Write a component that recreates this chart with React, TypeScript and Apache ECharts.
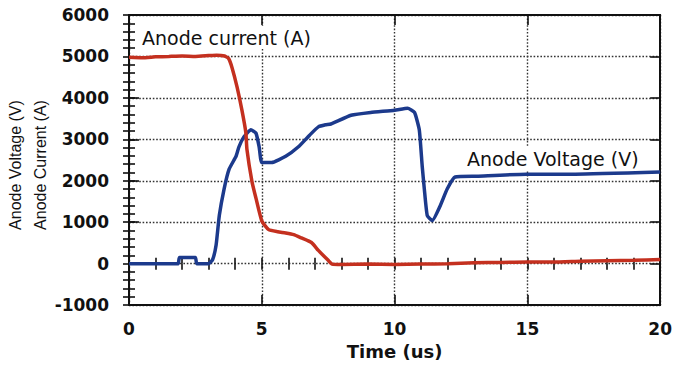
import { useEffect, useRef } from "react";
import * as echarts from "echarts";

// Anode current (A) vs time (us)
const currentTime = [0, 0.5, 1, 1.5, 2, 2.5, 3, 3.3, 3.6, 3.75, 3.88, 4.07, 4.25, 4.4, 4.44, 4.63, 4.78, 5.0, 5.26, 5.6, 5.9, 6.2, 6.49, 6.87, 7.13, 7.5, 7.65, 8, 9, 10, 11, 12, 13, 14, 15, 16, 17, 18, 19, 20];
const currentValues = [4980, 4970, 4990, 5000, 5010, 5000, 5020, 5030, 5010, 4950, 4730, 4260, 3710, 3160, 2760, 1980, 1580, 1030, 820, 770, 740, 700, 620, 510, 320, 80, -10, -20, -10, -20, -10, 0, 20, 30, 40, 40, 60, 70, 80, 100];

// Anode voltage (V) vs time (us)
const voltageTime = [0, 1, 1.85, 1.9, 2.5, 2.55, 3.0, 3.15, 3.28, 3.4, 3.58, 3.77, 4.03, 4.14, 4.33, 4.59, 4.78, 4.9, 5.0, 5.37, 5.9, 6.38, 6.8, 7.13, 7.4, 7.6, 8.36, 9.1, 10, 10.49, 10.75, 10.93, 11.04, 11.12, 11.23, 11.42, 11.72, 11.98, 12.28, 13.1, 14.96, 16.8, 20];
const voltageValues = [0, 0, 0, 150, 150, 0, 0, 100, 450, 1160, 1800, 2280, 2590, 2820, 3060, 3230, 3150, 2820, 2440, 2440, 2590, 2820, 3100, 3300, 3350, 3370, 3580, 3650, 3700, 3750, 3650, 3230, 2350, 1800, 1160, 1040, 1400, 1800, 2090, 2110, 2160, 2160, 2210];

const xMin = 0;
const xMax = 20;
const xInterval = 5;
const xMinorInterval = 1;
const yMin = -1000;
const yMax = 6000;
const yInterval = 1000;
const yMinorInterval = 200;

const xTitle = "Time (us)";
const yTitle1 = "Anode Voltage (V)";
const yTitle2 = "Anode Current (A)";
const currentLabel = "Anode current (A)";
const voltageLabel = "Anode Voltage (V)";

export default function App() {
  const ref = useRef<HTMLDivElement>(null);

  useEffect(() => {
    if (!ref.current) return;
    const chart = echarts.init(ref.current, null, { renderer: "svg" });

    const tickFont = {
      fontFamily: "DejaVu Sans",
      fontWeight: "bold" as const,
      fontSize: 17,
      color: "#111",
    };
    const gridLine = { lineStyle: { color: "#333", width: 1.4, type: [1.6, 1.8] as number[] } };
    const axisLine = { show: true, onZero: false, lineStyle: { color: "#111", width: 2 } };
    const majorTick = { show: true, inside: true, length: 10, lineStyle: { color: "#111", width: 1.6 } };
    const minorTickAxis = { show: true, inside: true, length: 6, lineStyle: { color: "#111", width: 1.6 } };

    const xBase = { type: "value" as const, min: xMin, max: xMax };
    const yBase = { type: "value" as const, min: yMin, max: yMax };

    chart.setOption({
      animation: false,
      backgroundColor: "#fff",
      grid: { left: 129, right: 11, top: 15, bottom: 57, containLabel: false },
      xAxis: [
        {
          ...xBase,
          position: "bottom",
          interval: xInterval,
          axisLine,
          axisTick: majorTick,
          axisLabel: { ...tickFont, margin: 15, formatter: (v: number) => String(v) },
          splitLine: { show: true, ...gridLine },
          name: xTitle,
          nameLocation: "middle",
          nameGap: 35,
          nameTextStyle: { ...tickFont, fontSize: 18 },
        },
        {
          ...xBase,
          position: "top",
          interval: xInterval,
          axisLine,
          axisTick: majorTick,
          axisLabel: { show: false },
          splitLine: { show: false },
        },
        {
          ...xBase,
          position: "bottom",
          interval: xMinorInterval,
          axisLine: { show: false },
          axisTick: minorTickAxis,
          axisLabel: { show: false },
          splitLine: { show: false },
        },
        {
          ...xBase,
          position: "top",
          interval: xMinorInterval,
          axisLine: { show: false },
          axisTick: minorTickAxis,
          axisLabel: { show: false },
          splitLine: { show: false },
        },
      ],
      yAxis: [
        {
          ...yBase,
          position: "left",
          interval: yInterval,
          axisLine,
          axisTick: majorTick,
          axisLabel: { ...tickFont, margin: 20, formatter: (v: number) => String(v) },
          splitLine: { show: true, ...gridLine },
        },
        {
          ...yBase,
          position: "right",
          interval: yInterval,
          axisLine,
          axisTick: majorTick,
          axisLabel: { show: false },
          splitLine: { show: false },
        },
        {
          ...yBase,
          position: "left",
          interval: yMinorInterval,
          axisLine: { show: false },
          axisTick: minorTickAxis,
          axisLabel: { show: false },
          splitLine: { show: false },
        },
        {
          ...yBase,
          position: "right",
          interval: yMinorInterval,
          axisLine: { show: false },
          axisTick: minorTickAxis,
          axisLabel: { show: false },
          splitLine: { show: false },
        },
      ],
      series: [
        {
          name: voltageLabel,
          type: "line",
          xAxisIndex: 0,
          yAxisIndex: 0,
          showSymbol: false,
          smooth: 0.15,
          data: voltageTime.map((t, i) => [t, voltageValues[i]]),
          lineStyle: { color: "#1c3a8c", width: 3.5 },
          z: 3,
        },
        {
          name: currentLabel,
          type: "line",
          xAxisIndex: 0,
          yAxisIndex: 0,
          showSymbol: false,
          smooth: 0.15,
          data: currentTime.map((t, i) => [t, currentValues[i]]),
          lineStyle: { color: "#c4301f", width: 3.5 },
          z: 4,
        },
      ],
      graphic: [
        {
          type: "text",
          left: 138,
          top: 26,
          z: 10,
          style: {
            text: currentLabel,
            fontFamily: "DejaVu Sans",
            fontSize: 19,
            fill: "#111",
            backgroundColor: "#fff",
            padding: [2, 4],
          },
        },
        {
          type: "text",
          left: 463,
          top: 147,
          z: 10,
          style: {
            text: voltageLabel,
            fontFamily: "DejaVu Sans",
            fontSize: 19,
            fill: "#111",
            backgroundColor: "#fff",
            padding: [2, 4],
          },
        },
        {
          type: "text",
          x: 15,
          y: 165,
          rotation: Math.PI / 2,
          style: {
            text: yTitle1,
            fontFamily: "Liberation Sans",
            fontSize: 16,
            fill: "#111",
            textAlign: "center",
            textVerticalAlign: "middle",
          },
        },
        {
          type: "text",
          x: 40,
          y: 165,
          rotation: Math.PI / 2,
          style: {
            text: yTitle2,
            fontFamily: "Liberation Sans",
            fontSize: 16,
            fill: "#111",
            textAlign: "center",
            textVerticalAlign: "middle",
          },
        },
      ],
    });

    return () => chart.dispose();
  }, []);

  return (
    <div
      ref={ref}
      style={{ position: "absolute", left: 0, top: 0, width: 675, height: 365 }}
    />
  );
}
